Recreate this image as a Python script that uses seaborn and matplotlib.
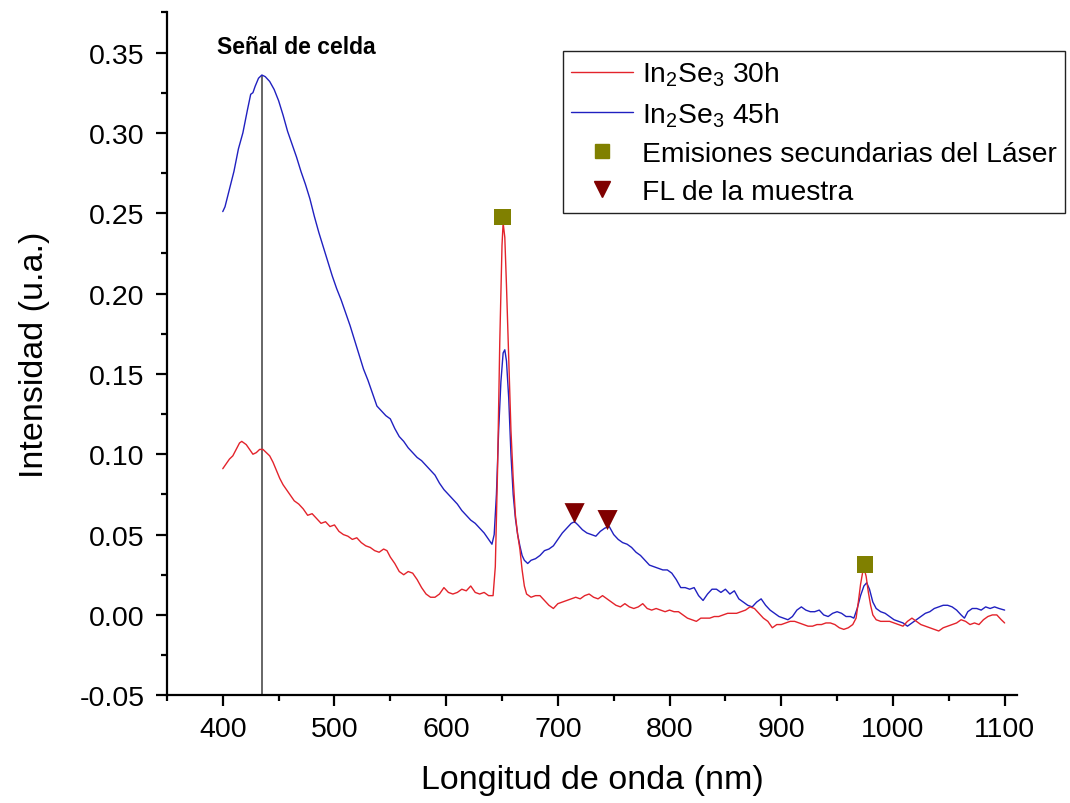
import numpy as np
import pandas as pd
import seaborn as sns
import matplotlib.pyplot as plt
from matplotlib.lines import Line2D
from matplotlib.ticker import MultipleLocator

# In2Se3 30h (curva roja)
wl_30h = [400, 403, 406, 409, 412, 415, 417, 419, 421, 424, 427, 430, 433, 436, 439, 442, 445, 448, 451, 454,
          457, 460, 464, 468, 472, 476, 480, 484, 488, 492, 496, 500, 504, 508, 512, 516, 520, 524, 528, 532,
          536, 540, 544, 547, 550, 554, 558, 562, 566, 570, 574, 578, 582, 586, 590, 594, 598, 602, 606, 610,
          614, 618, 622, 626, 630, 634, 638, 642, 644, 646, 648, 650, 651, 652.5, 654, 656, 658, 660, 662, 664,
          666, 668, 670, 672, 676, 680, 684, 688, 692, 696, 700, 704, 708, 712, 716, 720, 724, 728, 732, 736,
          740, 744, 748, 752, 756, 760, 764, 768, 772, 776, 780, 784, 788, 792, 796, 800, 804, 808, 812, 816,
          820, 824, 828, 832, 836, 840, 844, 848, 852, 856, 860, 864, 868, 872, 876, 880, 884, 888, 892, 896,
          900, 904, 908, 912, 916, 920, 924, 928, 932, 936, 940, 944, 948, 952, 956, 960, 964, 967, 969, 971,
          973, 974.5, 976, 978, 980, 982, 985, 989, 993, 997, 1001, 1005, 1009, 1013, 1017, 1021, 1025, 1029, 1033, 1037,
          1041, 1045, 1049, 1053, 1057, 1061, 1065, 1069, 1073, 1077, 1081, 1085, 1089, 1093, 1097, 1100]
int_30h = [0.091, 0.094, 0.097, 0.099, 0.103, 0.107, 0.108, 0.107, 0.106, 0.103, 0.100, 0.101, 0.103, 0.103, 0.101, 0.099, 0.095, 0.090, 0.085, 0.081,
           0.078, 0.075, 0.071, 0.069, 0.066, 0.062, 0.063, 0.060, 0.057, 0.058, 0.055, 0.056, 0.052, 0.050, 0.049, 0.047, 0.048, 0.045, 0.043, 0.042,
           0.040, 0.039, 0.041, 0.040, 0.036, 0.032, 0.027, 0.025, 0.027, 0.026, 0.022, 0.017, 0.013, 0.011, 0.011, 0.013, 0.017, 0.014, 0.013, 0.014,
           0.016, 0.015, 0.018, 0.014, 0.013, 0.014, 0.012, 0.012, 0.030, 0.090, 0.170, 0.230, 0.244, 0.235, 0.205, 0.160, 0.115, 0.085, 0.062, 0.050,
           0.041, 0.028, 0.018, 0.013, 0.011, 0.012, 0.012, 0.009, 0.006, 0.004, 0.007, 0.008, 0.009, 0.010, 0.011, 0.010, 0.012, 0.013, 0.011, 0.010,
           0.012, 0.010, 0.008, 0.006, 0.005, 0.007, 0.005, 0.004, 0.005, 0.007, 0.004, 0.003, 0.004, 0.003, 0.002, 0.003, 0.002, 0.002, 0.000, -0.002,
           -0.003, -0.004, -0.002, -0.002, -0.002, -0.001, -0.001, 0.000, 0.001, 0.001, 0.001, 0.002, 0.003, 0.005, 0.004, 0.001, -0.002, -0.004, -0.008, -0.006,
           -0.006, -0.005, -0.004, -0.004, -0.005, -0.006, -0.007, -0.007, -0.006, -0.006, -0.005, -0.005, -0.006, -0.008, -0.009, -0.008, -0.006, -0.002, 0.008, 0.019,
           0.027, 0.028, 0.024, 0.014, 0.006, 0.000, -0.003, -0.004, -0.004, -0.004, -0.005, -0.006, -0.007, -0.004, -0.002, -0.004, -0.006, -0.007, -0.008, -0.009,
           -0.010, -0.008, -0.007, -0.006, -0.005, -0.003, -0.004, -0.006, -0.005, -0.006, -0.003, -0.001, 0.000, 0.000, -0.003, -0.005]

# In2Se3 45h (curva azul)
wl_45h = [400, 402, 406, 410, 414, 418, 422, 425, 427, 429, 432, 435, 438, 442, 446, 450, 454, 458, 462, 466,
          470, 474, 478, 482, 486, 490, 494, 498, 502, 506, 510, 514, 518, 522, 526, 530, 534, 538, 542, 546,
          550, 554, 558, 562, 566, 570, 574, 578, 582, 586, 590, 594, 598, 602, 606, 610, 614, 618, 622, 626,
          630, 634, 638, 641, 643, 645, 647, 649, 651, 652.5, 654, 656, 658, 660, 662, 664, 666, 668, 670, 673,
          676, 680, 684, 688, 692, 696, 700, 704, 708, 712, 715, 718, 722, 726, 730, 734, 738, 742, 746, 750,
          754, 758, 762, 766, 770, 774, 778, 782, 786, 790, 794, 798, 802, 806, 810, 814, 818, 822, 826, 830,
          834, 838, 842, 846, 850, 854, 858, 862, 866, 870, 874, 878, 882, 886, 890, 894, 898, 902, 906, 910,
          914, 918, 922, 926, 930, 934, 938, 942, 946, 950, 954, 958, 962, 965, 968, 971, 974, 976.5, 979, 982,
          985, 989, 993, 997, 1001, 1005, 1009, 1013, 1017, 1021, 1025, 1029, 1033, 1037, 1041, 1045, 1049, 1053, 1057, 1061,
          1064, 1067, 1071, 1075, 1079, 1083, 1087, 1091, 1095, 1100]
int_45h = [0.251, 0.254, 0.265, 0.276, 0.290, 0.300, 0.314, 0.324, 0.325, 0.329, 0.334, 0.336, 0.335, 0.332, 0.327, 0.320, 0.311, 0.301, 0.293, 0.285,
           0.276, 0.268, 0.259, 0.248, 0.238, 0.229, 0.220, 0.211, 0.203, 0.196, 0.188, 0.180, 0.171, 0.162, 0.153, 0.146, 0.138, 0.130, 0.127, 0.124,
           0.122, 0.116, 0.111, 0.108, 0.104, 0.101, 0.098, 0.096, 0.093, 0.090, 0.087, 0.082, 0.078, 0.075, 0.072, 0.069, 0.065, 0.062, 0.059, 0.057,
           0.054, 0.051, 0.047, 0.044, 0.050, 0.075, 0.115, 0.145, 0.163, 0.165, 0.158, 0.135, 0.100, 0.075, 0.060, 0.050, 0.043, 0.037, 0.034, 0.032,
           0.034, 0.035, 0.037, 0.040, 0.041, 0.043, 0.047, 0.051, 0.054, 0.057, 0.058, 0.056, 0.053, 0.051, 0.050, 0.049, 0.052, 0.054, 0.055, 0.050,
           0.047, 0.045, 0.044, 0.042, 0.039, 0.037, 0.034, 0.031, 0.030, 0.029, 0.028, 0.028, 0.026, 0.022, 0.017, 0.017, 0.016, 0.017, 0.012, 0.009,
           0.013, 0.016, 0.016, 0.014, 0.016, 0.013, 0.015, 0.010, 0.008, 0.006, 0.005, 0.008, 0.010, 0.006, 0.003, 0.001, -0.001, -0.002, -0.003, -0.001,
           0.003, 0.005, 0.003, 0.002, 0.002, 0.003, 0.000, -0.001, 0.001, 0.002, 0.001, -0.001, -0.001, -0.002, 0.004, 0.012, 0.018, 0.020, 0.016, 0.008,
           0.004, 0.002, 0.001, -0.001, -0.003, -0.004, -0.005, -0.007, -0.005, -0.003, -0.001, 0.001, 0.002, 0.004, 0.005, 0.006, 0.006, 0.005, 0.003, 0.000,
           -0.002, 0.002, 0.004, 0.004, 0.003, 0.005, 0.004, 0.005, 0.004, 0.003]

# marcadores
laser_x = [650.5, 975]
laser_y = [0.2475, 0.0315]
fl_x = [715, 744.5]
fl_y = [0.0633, 0.059]

cell_x = 435
cell_top = 0.336

sns.set_style("ticks")
plt.rcParams['font.family'] = ['Liberation Sans', 'DejaVu Sans']
plt.rcParams['mathtext.fontset'] = 'custom'
plt.rcParams['mathtext.rm'] = 'Liberation Sans'
for k in ['text.color', 'axes.labelcolor', 'xtick.color', 'ytick.color']:
    plt.rcParams[k] = 'black'

red = '#e3232b'
blue = '#2020c0'
olive = '#808000'
darkred = '#800000'

fig = plt.figure(figsize=(10.7, 8.04), dpi=100)
ax = fig.add_axes([0.156, 0.134, 0.7944, 0.8494])

df30 = pd.DataFrame({'wl': wl_30h, 'I': int_30h})
df45 = pd.DataFrame({'wl': wl_45h, 'I': int_45h})

ax.vlines(cell_x, -0.05, cell_top, color='#5a5a5a', lw=1.3, zorder=1)
sns.lineplot(data=df30, x='wl', y='I', ax=ax, color=red, lw=1.0, zorder=3)
sns.lineplot(data=df45, x='wl', y='I', ax=ax, color=blue, lw=1.0, zorder=2)
sns.scatterplot(x=laser_x, y=laser_y, ax=ax, marker='s', s=140, color=olive, edgecolor='none', zorder=4)
sns.scatterplot(x=fl_x, y=fl_y, ax=ax, marker='v', s=210, color=darkred, edgecolor='none', zorder=4)

ax.text(466, 0.3535, 'Señal de celda', fontweight='bold', fontsize=16.5, ha='center', va='center')

ax.set_xlim(350, 1111)
ax.set_ylim(-0.05, 0.375)
ax.set_xticks(np.arange(400, 1101, 100))
ax.set_yticks(np.arange(-0.05, 0.351, 0.05))
ax.xaxis.set_minor_locator(MultipleLocator(50))
ax.yaxis.set_minor_locator(MultipleLocator(0.025))
ax.yaxis.set_major_formatter(plt.FuncFormatter(lambda v, p: f'{v:.2f}'))

sns.despine(ax=ax)
for s in ['left', 'bottom']:
    ax.spines[s].set_linewidth(1.6)
    ax.spines[s].set_color('black')
ax.tick_params(which='major', direction='out', length=8, width=1.6, labelsize=20.5, color='black', pad=7)
ax.tick_params(which='minor', direction='out', length=4.5, width=1.6, color='black')
ax.tick_params(axis='y', which='major', pad=8)

ax.set_xlabel('Longitud de onda (nm)', fontsize=24.5)
ax.set_ylabel('Intensidad (u.a.)', fontsize=24.5)
ax.xaxis.set_label_coords(0.5, -0.1)
ax.yaxis.set_label_coords(-0.137, 0.5)

handles = [
    Line2D([], [], color=red, lw=1.0),
    Line2D([], [], color=blue, lw=1.0),
    Line2D([], [], marker='s', color=olive, ls='', ms=10),
    Line2D([], [], marker='v', color=darkred, ls='', ms=12),
]
labels = [r'In$_\mathregular{2}$Se$_\mathregular{3}$ 30h',
          r'In$_\mathregular{2}$Se$_\mathregular{3}$ 45h',
          'Emisiones secundarias del Láser',
          'FL de la muestra']
leg = ax.legend(handles, labels, loc='upper left', bbox_to_anchor=(563 / 1070, 1 - 52 / 804),
                bbox_transform=fig.transFigure, borderaxespad=0, fontsize=20.3, frameon=True,
                fancybox=False, framealpha=1, edgecolor='#222222', borderpad=0.3,
                handlelength=2.2, handletextpad=0.3, labelspacing=0.42)
leg.get_frame().set_linewidth(1.0)

fig.savefig('out.png', dpi=100)
